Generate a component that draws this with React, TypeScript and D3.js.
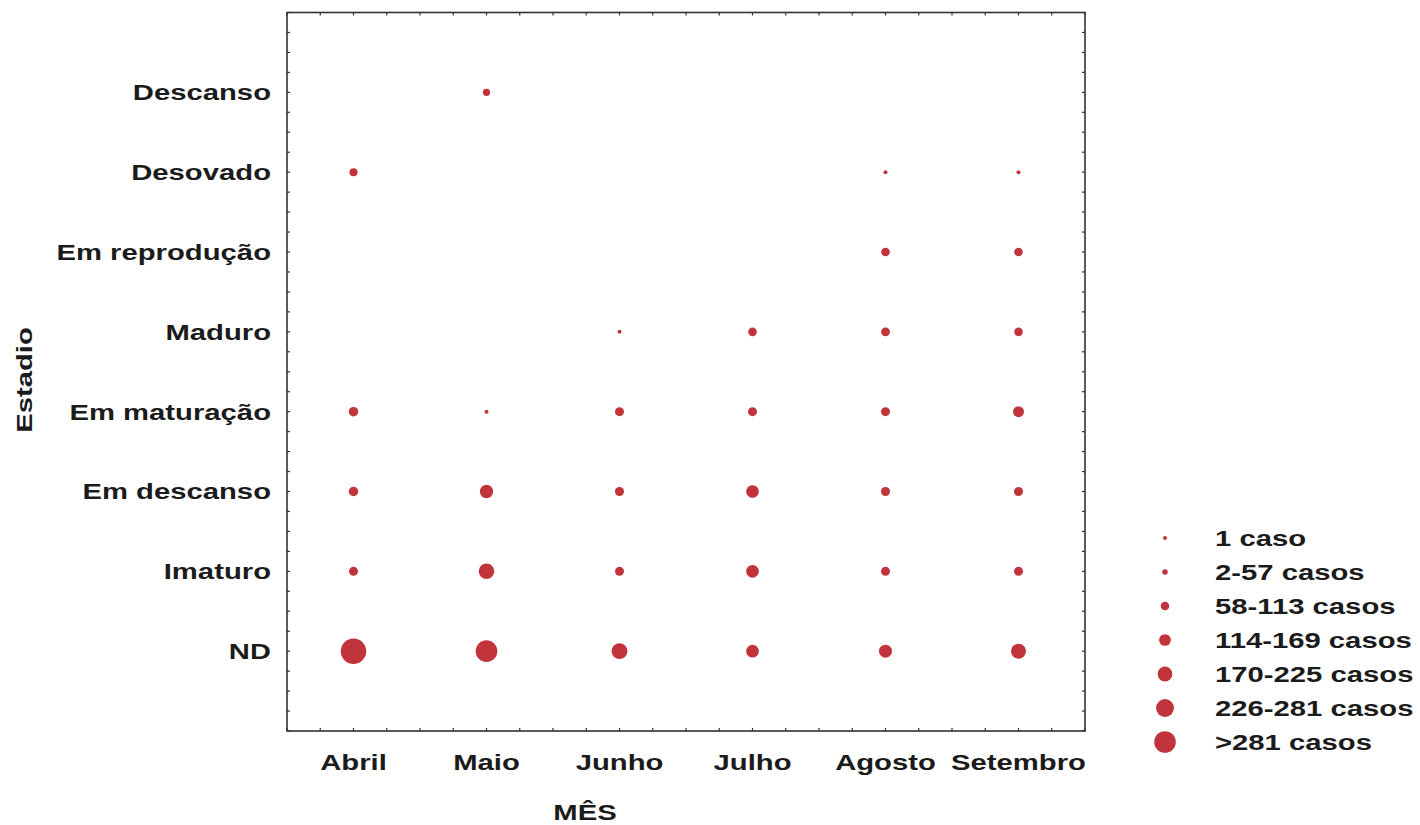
import React from "react";
import * as d3 from "d3";

// Months along the x axis, maturity stages along the y axis (top to bottom)
const months = ["Abril", "Maio", "Junho", "Julho", "Agosto", "Setembro"];
const stages = [
  "Descanso",
  "Desovado",
  "Em reprodução",
  "Maduro",
  "Em maturação",
  "Em descanso",
  "Imaturo",
  "ND",
];

// Number of cases per stage, one value per month (null = no cases)
const descanso = [null, 60, null, null, null, null];
const desovado = [75, null, null, null, 1, 1];
const emReproducao = [null, null, null, null, 85, 85];
const maduro = [null, null, 1, 85, 90, 85];
const emMaturacao = [100, 1, 92, 92, 92, 128];
const emDescanso = [100, 170, 92, 158, 92, 92];
const imaturo = [92, 210, 92, 158, 92, 92];
const nd = [390, 320, 215, 158, 165, 200];

const seriesByStage = [
  descanso,
  desovado,
  emReproducao,
  maduro,
  emMaturacao,
  emDescanso,
  imaturo,
  nd,
];

// Size classes shown in the legend, with a representative count for each
const legendLabels = [
  "1 caso",
  "2-57 casos",
  "58-113 casos",
  "114-169 casos",
  "170-225 casos",
  "226-281 casos",
  ">281 casos",
];
const legendValues = [1, 29, 85, 141, 197, 253, 320];

const WIDTH = 1420;
const HEIGHT = 825;
const plot = { left: 287, right: 1085, top: 12.5, bottom: 731 };
const FONT = "'Liberation Sans', Arial, Helvetica, sans-serif";
const DOT = "#c1343b";
const TEXT = "#1b1b1b";
const FS = 22;
const STRETCH = 1.33; // lettering is set wide

function Label({
  x,
  y,
  anchor = "start",
  rotate = 0,
  children,
}: {
  x: number;
  y: number;
  anchor?: "start" | "middle" | "end";
  rotate?: number;
  children: React.ReactNode;
}) {
  return (
    <text
      transform={`translate(${x},${y}) rotate(${rotate}) scale(${STRETCH},1)`}
      dy="0.36em"
      textAnchor={anchor}
      fontFamily={FONT}
      fontWeight="bold"
      fontSize={FS}
      fill={TEXT}
    >
      {children}
    </text>
  );
}

export default function App() {
  const x = d3
    .scaleLinear()
    .domain([-0.5, months.length - 0.5])
    .range([plot.left, plot.right]);
  const y = d3
    .scaleLinear()
    .domain([-1, stages.length])
    .range([plot.top, plot.bottom]);
  const r = d3.scaleLinear().domain([1, 400]).range([2, 13]);

  const points = seriesByStage.flatMap((vals, si) =>
    vals
      .map((v, mi) => ({ v, mi, si }))
      .filter((p) => p.v !== null) as { v: number; mi: number; si: number }[]
  );

  // Minor ticks every quarter unit, drawn inward on all four sides
  const xTicks = d3.range(-0.5, months.length - 0.5 + 0.001, 0.25);
  const yTicks = d3.range(-1, stages.length + 0.001, 0.25);
  const tickLen = 3;

  const legendX = 1165;
  const legendY0 = 538;
  const legendStep = 34;

  return (
    <div style={{ position: "absolute", left: 0, top: 0 }}>
      <svg width={WIDTH} height={HEIGHT} style={{ display: "block", background: "#fff" }}>
        {/* frame */}
        <rect
          x={plot.left}
          y={plot.top}
          width={plot.right - plot.left}
          height={plot.bottom - plot.top}
          fill="none"
          stroke="#333"
          strokeWidth={1.6}
        />
        {xTicks.map((t, i) => (
          <g key={"xt" + i} stroke="#333" strokeWidth={1.2}>
            <line x1={x(t)} x2={x(t)} y1={plot.top} y2={plot.top + tickLen} />
            <line x1={x(t)} x2={x(t)} y1={plot.bottom} y2={plot.bottom - tickLen} />
          </g>
        ))}
        {yTicks.map((t, i) => (
          <g key={"yt" + i} stroke="#333" strokeWidth={1.2}>
            <line x1={plot.left} x2={plot.left + tickLen} y1={y(t)} y2={y(t)} />
            <line x1={plot.right} x2={plot.right - tickLen} y1={y(t)} y2={y(t)} />
          </g>
        ))}

        {/* bubbles */}
        {points.map((p, i) => (
          <circle key={i} cx={x(p.mi)} cy={y(p.si)} r={r(p.v)} fill={DOT} />
        ))}

        {/* y tick labels */}
        {stages.map((s, i) => (
          <Label key={s} x={271} y={y(i)} anchor="end">
            {s}
          </Label>
        ))}

        {/* x tick labels */}
        {months.map((m, i) => (
          <Label key={m} x={x(i)} y={762} anchor="middle">
            {m}
          </Label>
        ))}

        {/* axis titles */}
        <Label x={585} y={812} anchor="middle">
          MÊS
        </Label>
        <Label x={24} y={380} anchor="middle" rotate={-90}>
          Estadio
        </Label>

        {/* legend */}
        {legendLabels.map((lab, i) => (
          <g key={lab}>
            <circle
              cx={legendX}
              cy={legendY0 + i * legendStep}
              r={r(legendValues[i])}
              fill={DOT}
            />
            <Label x={1215} y={legendY0 + i * legendStep}>
              {lab}
            </Label>
          </g>
        ))}
      </svg>
    </div>
  );
}
